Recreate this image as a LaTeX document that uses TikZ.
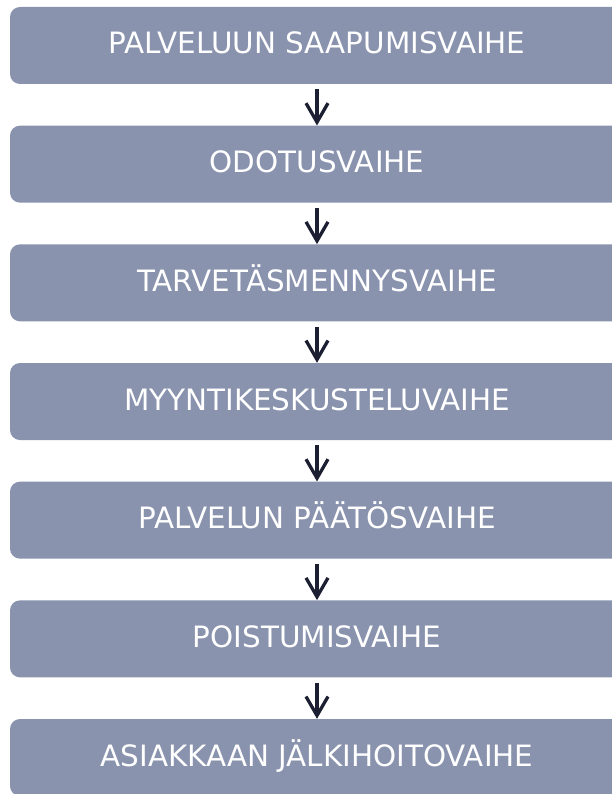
\documentclass[tikz,border=0pt]{standalone}
\usepackage{fontspec}
\setmainfont{DejaVu Sans}
\usetikzlibrary{arrows.meta}
\definecolor{boxfill}{RGB}{137,147,174}
\definecolor{arrowcol}{RGB}{28,31,50}
\begin{document}
\begin{tikzpicture}[x=1pt,y=-1pt,
  phasebox/.style={fill=boxfill, draw=none, rounded corners=10pt,
    minimum width=614pt, minimum height=77pt, inner sep=0pt,
    text=white, font=\fontsize{29.4pt}{31pt}\selectfont,
    text height=21pt, text depth=4pt},
  flowarrow/.style={draw=arrowcol, line width=3.3pt,
    -{Straight Barb[length=19pt,width=22pt,line width=3.3pt]}}]
\useasboundingbox (0,0) rectangle (612,794);
\def\pitch{118.67}
\node[phasebox] (b1) at (317,45.5) {PALVELUUN SAAPUMISVAIHE};
\node[phasebox] (b2) at (317,45.5+\pitch) {ODOTUSVAIHE};
\node[phasebox] (b3) at (317,45.5+2*\pitch) {TARVETÄSMENNYSVAIHE};
\node[phasebox] (b4) at (317,45.5+3*\pitch) {MYYNTIKESKUSTELUVAIHE};
\node[phasebox] (b5) at (317,45.5+4*\pitch) {PALVELUN PÄÄTÖSVAIHE};
\node[phasebox] (b6) at (317,45.5+5*\pitch) {POISTUMISVAIHE};
\node[phasebox] (b7) at (317,45.5+6*\pitch) {ASIAKKAAN JÄLKIHOITOVAIHE};
\foreach \a/\b in {b1/b2,b2/b3,b3/b4,b4/b5,b5/b6,b6/b7}
  \draw[flowarrow] ([yshift=-5pt]\a.south) -- (\b.north);
\end{tikzpicture}
\end{document}
